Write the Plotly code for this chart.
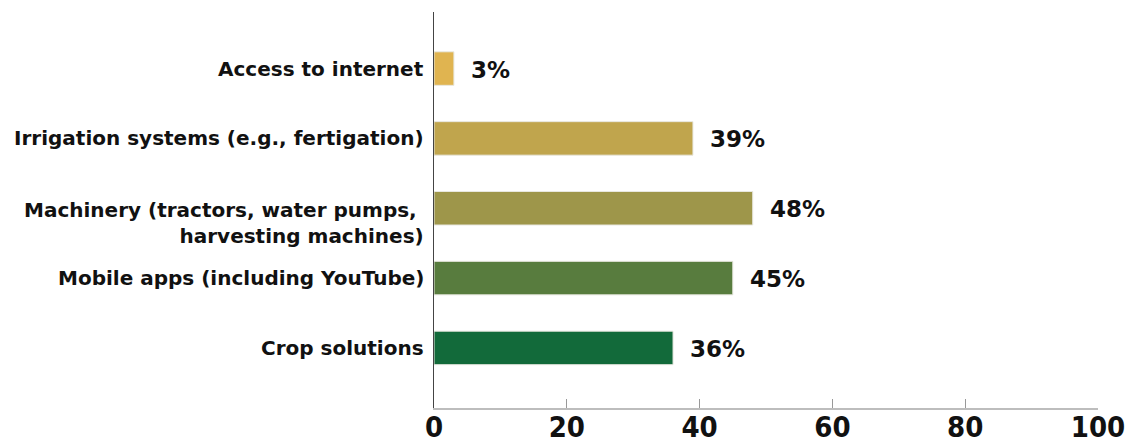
import plotly.graph_objects as go

categories = [
    "Crop solutions",
    "Mobile apps (including YouTube)",
    "Machinery (tractors, water pumps, <br>harvesting machines)",
    "Irrigation systems (e.g., fertigation)",
    "Access to internet",
]
values = [36, 45, 48, 39, 3]
labels = ["36%", "45%", "48%", "39%", "3%"]
colors = ["#126A3A", "#587C3E", "#9E964A", "#C0A54D", "#E0B450"]
x_ticks = [0, 20, 40, 60, 80, 100]

fig = go.Figure()
fig.add_trace(go.Bar(
    x=values, y=categories, orientation="h",
    marker=dict(color=colors, line=dict(color="#E8E8E0", width=1)),
    width=0.48, hoverinfo="skip",
))

for v, c, t in zip(values, categories, labels):
    fig.add_annotation(x=v, y=c, text="<b>" + t + "</b>", showarrow=False, xanchor="left",
                       xshift=15, yshift=-1,
                       font=dict(family="DejaVu Sans", size=23, color="#111"),
                       )

label_shift = {categories[2]: -15}
for c in categories:
    fig.add_annotation(x=0, y=c, text="<b>" + c + "</b>", showarrow=False,
                       xanchor="right", xshift=-8, yshift=label_shift.get(c, 0),
                       align="right",
                       font=dict(family="DejaVu Sans", size=20, color="#111"))

fig.update_layout(
    width=1133, height=443,
    margin=dict(l=426, r=43, t=4, b=43, autoexpand=False),
    plot_bgcolor="white", paper_bgcolor="white",
    showlegend=False,
    bargap=0.5,
)
fig.update_xaxes(
    range=[0, 100], tickvals=x_ticks, ticktext=["<b>%d</b>" % v for v in x_ticks],
    showgrid=False, zeroline=False, automargin=False,
    showline=True, linecolor="#BDBDBD", linewidth=2,
    ticks="inside", ticklen=9, tickcolor="#999", tickwidth=1,
    ticklabelstandoff=-8,
    tickfont=dict(family="DejaVu Sans Condensed", size=29, color="#111"),
    fixedrange=True,
)
fig.update_yaxes(
    categoryorder="array", categoryarray=categories,
    range=[-0.86, 4.81], automargin=False,
    showticklabels=False, showgrid=False, zeroline=False,
    showline=True, linecolor="#444", linewidth=1,
    ticks="", fixedrange=True,
)
fig.write_html("out.html")
